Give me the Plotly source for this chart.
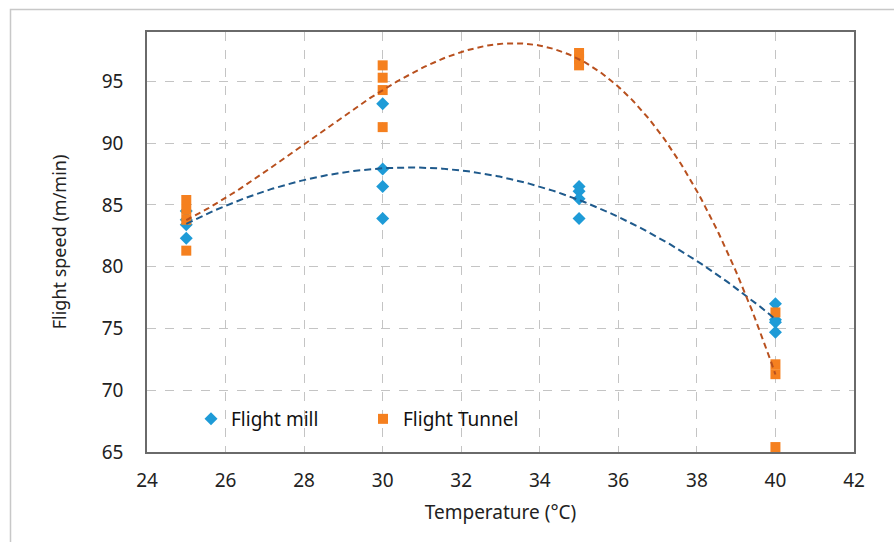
import numpy as np
import plotly.graph_objects as go

# Flight speed (m/min) measured at each rearing temperature (°C)
mill_temp = [25, 25, 25, 25, 30, 30, 30, 30, 35, 35, 35, 35, 40, 40, 40, 40]
mill_speed = [84.5, 83.8, 83.4, 82.3,
              93.2, 87.9, 86.5, 83.9,
              86.5, 86.1, 85.5, 83.9,
              77.0, 75.7, 75.5, 74.7]

tunnel_temp = [25, 25, 25, 25, 30, 30, 30, 30, 35, 35, 35, 40, 40, 40, 40]
tunnel_speed = [85.4, 84.6, 83.8, 81.3,
                96.3, 95.3, 94.3, 91.3,
                97.3, 96.8, 96.3,
                76.3, 72.1, 71.3, 65.4]

x_ticks = [24, 26, 28, 30, 32, 34, 36, 38, 40, 42]
y_ticks = [65, 70, 75, 80, 85, 90, 95]

MILL_COLOR = "#1E9BD7"
TUNNEL_COLOR = "#F5801F"
MILL_TREND = "#1F5A8C"
TUNNEL_TREND = "#B8501E"
FONT = "Noto Sans"

# polynomial trendlines: order 2 for the mill, order 3 for the tunnel
xs = np.linspace(min(mill_temp), max(mill_temp), 300)
mill_fit = np.polyval(np.polyfit(mill_temp, mill_speed, 2), xs)
tunnel_fit = np.polyval(np.polyfit(tunnel_temp, tunnel_speed, 3), xs)

fig = go.Figure()
fig.add_trace(go.Scatter(
    x=mill_temp, y=mill_speed, mode="markers", name="Flight mill",
    marker=dict(symbol="diamond", size=10, color=MILL_COLOR)))
fig.add_trace(go.Scatter(
    x=tunnel_temp, y=tunnel_speed, mode="markers", name="Flight Tunnel",
    marker=dict(symbol="square", size=10, color=TUNNEL_COLOR)))
fig.add_trace(go.Scatter(
    x=xs, y=mill_fit, mode="lines", showlegend=False, hoverinfo="skip",
    line=dict(color=MILL_TREND, width=2, dash="7px,4px")))
fig.add_trace(go.Scatter(
    x=xs, y=tunnel_fit, mode="lines", showlegend=False, hoverinfo="skip",
    line=dict(color=TUNNEL_TREND, width=2, dash="6px,4px")))

L, R, T, B = 147, 40, 32, 90
W, H = 894, 542
pw, ph = W - L - R, H - T - B

fig.update_layout(
    width=W, height=H,
    margin=dict(l=L, r=R, t=T, b=B, pad=0),
    paper_bgcolor="white", plot_bgcolor="white",
    font=dict(family=FONT, size=19, color="#222222"),
    showlegend=True,
    legend=dict(
        orientation="h", x=(191 - L) / pw, xanchor="left",
        y=(H - B - 419) / ph, yanchor="middle",
        bgcolor="rgba(0,0,0,0)", font=dict(family=FONT, size=19, color="#111111"),
        itemwidth=30, entrywidth=127, tracegroupgap=0),
    xaxis=dict(
        range=[24, 42], tickvals=x_ticks, ticktext=[str(v) for v in x_ticks],
        showgrid=True, gridcolor="#C4C4C4", griddash="dash", gridwidth=1,
        showline=True, mirror=True, linecolor="#6A6A6A", linewidth=1.5,
        ticks="outside", ticklen=10, tickcolor="rgba(0,0,0,0)",
        tickfont=dict(family=FONT, size=19, color="#222222"),
        zeroline=False,
        title=dict(text="Temperature (°C)", standoff=14,
                   font=dict(family=FONT, size=19, color="#222222"))),
    yaxis=dict(
        range=[65, 99], tickvals=y_ticks, ticktext=[str(v) for v in y_ticks],
        showgrid=True, gridcolor="#C4C4C4", griddash="dash", gridwidth=1,
        showline=True, mirror=True, linecolor="#6A6A6A", linewidth=1.5,
        ticks="outside", ticklen=18, tickcolor="rgba(0,0,0,0)",
        tickfont=dict(family=FONT, size=19, color="#222222"),
        zeroline=False,
        title=dict(text="Flight speed (m/min)", standoff=30,
                   font=dict(family=FONT, size=18, color="#222222"))),
    shapes=[dict(
        type="rect", xref="paper", yref="paper",
        x0=(10.5 - L) / pw, x1=(W + 5 - L) / pw,
        y0=-(H + 5 - T - ph) / ph, y1=(H - B - 9.5) / ph,
        line=dict(color="#C8C8C8", width=1.5), layer="below")],
)

fig.write_html("out.html")
